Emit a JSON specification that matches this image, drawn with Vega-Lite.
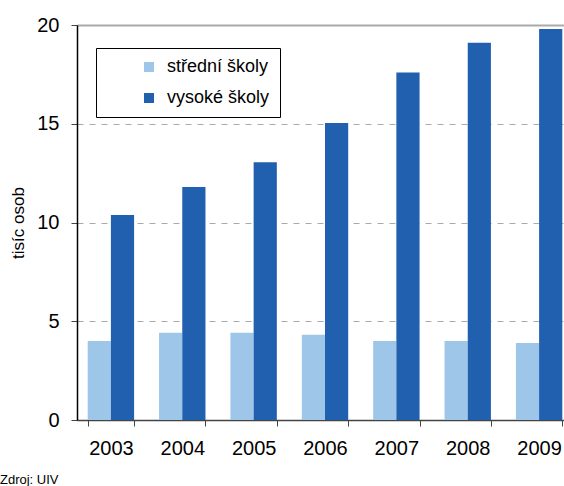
{
  "$schema": "https://vega.github.io/schema/vega-lite/v6.json",
  "width": 487,
  "height": 395,
  "autosize": {"type": "none"},
  "padding": {"left": 77, "top": 25, "right": 0, "bottom": 66},
  "config": {
    "font": "Liberation Sans",
    "view": {"stroke": null},
    "axis": {"labelFont": "Liberation Sans", "titleFont": "Liberation Sans"},
    "legend": {"labelFont": "Liberation Sans"}
  },
  "title": {
    "text": "Zdroj: UIV",
    "orient": "bottom",
    "anchor": "start",
    "frame": "group",
    "dx": -77,
    "offset": 16,
    "fontSize": 13,
    "fontWeight": "normal",
    "color": "black"
  },
  "data": {
    "values": [
      {"rok": "2003", "typ": "střední školy", "hodnota": 4.0},
      {"rok": "2003", "typ": "vysoké školy", "hodnota": 10.38},
      {"rok": "2004", "typ": "střední školy", "hodnota": 4.42},
      {"rok": "2004", "typ": "vysoké školy", "hodnota": 11.8},
      {"rok": "2005", "typ": "střední školy", "hodnota": 4.42},
      {"rok": "2005", "typ": "vysoké školy", "hodnota": 13.05},
      {"rok": "2006", "typ": "střední školy", "hodnota": 4.32},
      {"rok": "2006", "typ": "vysoké školy", "hodnota": 15.04},
      {"rok": "2007", "typ": "střední školy", "hodnota": 4.0},
      {"rok": "2007", "typ": "vysoké školy", "hodnota": 17.6},
      {"rok": "2008", "typ": "střední školy", "hodnota": 4.0},
      {"rok": "2008", "typ": "vysoké školy", "hodnota": 19.1},
      {"rok": "2009", "typ": "střední školy", "hodnota": 3.9},
      {"rok": "2009", "typ": "vysoké školy", "hodnota": 19.8}
    ]
  },
  "mark": {"type": "bar"},
  "encoding": {
    "x": {
      "field": "rok",
      "type": "nominal",
      "scale": {"range": [0, 496], "paddingInner": 0.35, "paddingOuter": 0.15},
      "axis": {
        "title": null,
        "labelAngle": 0,
        "labelFontSize": 20,
        "labelColor": "black",
        "labelPadding": 12,
        "tickBand": "extent",
        "tickSize": 6,
        "tickColor": "#444",
        "domainColor": "#444",
        "domainWidth": 1.5,
        "grid": false
      }
    },
    "xOffset": {
      "field": "typ",
      "type": "nominal",
      "sort": ["střední školy", "vysoké školy"],
      "scale": {"paddingInner": 0, "paddingOuter": 0}
    },
    "y": {
      "field": "hodnota",
      "type": "quantitative",
      "scale": {"domain": [0, 20], "nice": false},
      "axis": {
        "values": [0, 5, 10, 15, 20],
        "title": "tisíc osob",
        "titleFontSize": 17,
        "titleFontWeight": "normal",
        "titleColor": "black",
        "titlePadding": 9,
        "labelFontSize": 20,
        "labelColor": "black",
        "labelPadding": 12,
        "tickSize": 6,
        "tickColor": "#444",
        "domainColor": "black",
        "domainWidth": 1.5,
        "grid": true,
        "gridColor": "#aaaaaa",
        "gridWidth": {"condition": {"test": "datum.value === 20", "value": 2}, "value": 1},
        "gridDash": {"condition": {"test": "datum.value === 20", "value": []}, "value": [6, 6]}
      }
    },
    "color": {
      "field": "typ",
      "type": "nominal",
      "sort": ["střední školy", "vysoké školy"],
      "scale": {"domain": ["střední školy", "vysoké školy"], "range": ["#9dc6e9", "#2060ae"]},
      "legend": {
        "orient": "none",
        "legendX": 19,
        "legendY": 23,
        "title": null,
        "strokeColor": "black",
        "fillColor": "white",
        "padding": 10,
        "symbolType": "square",
        "symbolSize": 100,
        "symbolOffset": 34,
        "symbolStrokeWidth": 0,
        "labelFontSize": 18,
        "labelColor": "black",
        "labelOffset": 9,
        "rowPadding": 13,
        "labelExpr": "datum.label + '\u00a0\u00a0\u00a0\u00a0\u00a0'"
      }
    }
  }
}
